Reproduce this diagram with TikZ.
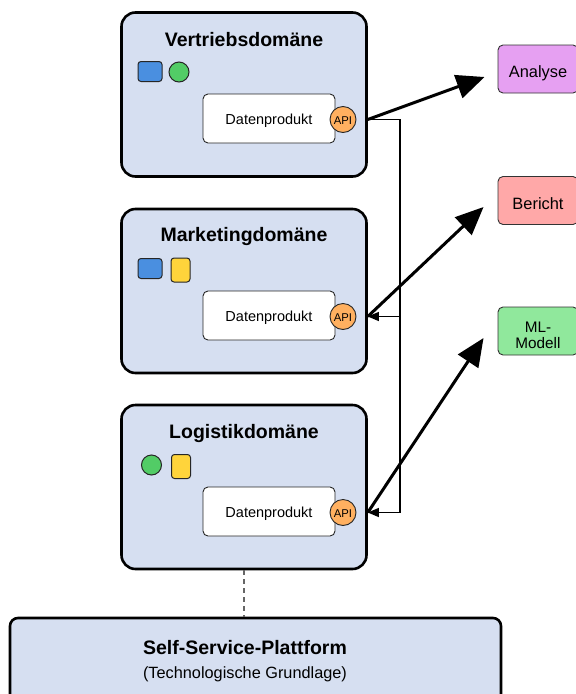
\documentclass[tikz,border=0pt]{standalone}
\usepackage{fontspec}
\setmainfont{Liberation Sans}
\usetikzlibrary{arrows.meta,calc}
\definecolor{domfill}{HTML}{D6DFF1}
\definecolor{sqblue}{HTML}{4A8FE0}
\definecolor{cgreen}{HTML}{52CC66}
\definecolor{ryellow}{HTML}{FFD43B}
\definecolor{apiorange}{HTML}{FFB060}
\definecolor{anfill}{HTML}{E6A0F2}
\definecolor{befill}{HTML}{FFA8A8}
\definecolor{mlfill}{HTML}{90E89C}
\tikzset{
  dombox/.style={draw=black, line width=2.6pt, fill=domfill, rounded corners=14pt,
    minimum width=245pt, minimum height=164pt, inner sep=0pt},
  domtitle/.style={font=\fontsize{19.5}{22}\selectfont\bfseries, inner sep=0pt},
  dprod/.style={draw=black!85, line width=0.9pt, fill=white, rounded corners=5pt,
    minimum width=132pt, minimum height=49pt, inner sep=0pt, font=\fontsize{14.5}{16}\selectfont,
    text height=11.6pt, text depth=0pt},
  apicirc/.style={circle, draw=black!85, line width=0.9pt, fill=apiorange, minimum size=26pt,
    inner sep=0pt, font=\fontsize{11.3}{12}\selectfont, text height=9pt, text depth=0pt},
  bluesq/.style={draw=black!85, line width=1pt, fill=sqblue, rounded corners=3pt,
    minimum width=24pt, minimum height=20pt, inner sep=0pt},
  yelrect/.style={draw=black!85, line width=1pt, fill=ryellow, rounded corners=3pt,
    minimum width=19pt, minimum height=24pt, inner sep=0pt},
  grcirc/.style={circle, draw=black!85, line width=1pt, fill=cgreen, minimum size=20pt, inner sep=0pt},
  consumer/.style={draw=black!80, line width=0.9pt, rounded corners=5pt,
    minimum width=80pt, minimum height=48pt, inner sep=0pt,
    font=\fontsize{16.4}{18}\selectfont, text height=17.5pt, text depth=0pt},
  thickarrow/.style={line width=3pt, -{Triangle[length=28pt,width=24pt]}},
  thinarrow/.style={line width=1.1pt, -{Triangle[length=11pt,width=9pt]}},
}
\begin{document}
\begin{tikzpicture}[x=1pt,y=-1pt]
\useasboundingbox (0,0) rectangle (576,694);

% domains
\node[dombox] (vd) at (244,94.5) {};
\node[dombox] (md) at (244,291) {};
\node[dombox] (ld) at (244,487) {};

\node[domtitle] (vt) at (244,40) {Vertriebsdomäne};
\node[domtitle] (mt) at (244,236) {Marketingdomäne};
\node[domtitle] (lt) at (244,433) {Logistikdomäne};

% icons
\node[bluesq] (vi1) at (150,71.5) {};
\node[grcirc] (vi2) at (179,72) {};
\node[bluesq] (mi1) at (150,268.5) {};
\node[yelrect] (mi2) at (180.5,270) {};
\node[grcirc] (li1) at (151.5,465) {};
\node[yelrect] (li2) at (181,466.5) {};

% data products
\node[dprod] (vp) at (269,118.5) {Datenprodukt};
\node[dprod] (mp) at (269,315.5) {Datenprodukt};
\node[dprod] (lp) at (269,511.5) {Datenprodukt};
\node[apicirc] (va) at (343,119.5) {API};
\node[apicirc] (ma) at (343,316.5) {API};
\node[apicirc] (la) at (343,512.5) {API};

% consumers
\node[consumer, fill=anfill] (an) at (538,69) {Analyse};
\node[consumer, fill=befill] (be) at (538,200.5) {Bericht};
\node[consumer, fill=mlfill] (ml) at (538,331) {};
\node[align=center, inner sep=0pt, font=\fontsize{15.3}{16}\selectfont] (mltxt) at ($(ml.center)+(0,4.5)$) {ML-\\Modell};

% platform
\node[draw=black, line width=2.6pt, fill=domfill, rounded corners=8pt,
  minimum width=491pt, minimum height=110pt, inner sep=0pt] (pf) at (255.5,673) {};
\node[font=\fontsize{19.5}{22}\selectfont\bfseries, inner sep=0pt] (pft) at (245,648) {Self-Service-Plattform};
\node[font=\fontsize{16.3}{18}\selectfont, inner sep=0pt] (pfs) at (245,674) {(Technologische Grundlage)};

% ports and helper coordinates
\coordinate (vport) at (vd.east |- va.center);
\coordinate (mport) at (md.east |- ma.center);
\coordinate (lport) at (ld.east |- la.center);
\coordinate (bus) at (400,0);
\coordinate (antip) at ($(an.west)+(-13,8)$);
\coordinate (betip) at ($(be.west)+(-14,6.5)$);
\coordinate (mltip) at ($(ml.west)+(-14,7)$);

% thin distribution lines
\draw[line width=1.1pt] (vport) -- (vport -| bus) -- (lport -| bus);
\draw[thinarrow] (lport -| bus) -- (lport);
\draw[thinarrow] (mport -| bus) -- (mport);

% thick arrows to consumers
\draw[thickarrow] (vport) -- (antip);
\draw[thickarrow] (mport) -- (betip);
\draw[thickarrow] (lport) -- (mltip);

% dashed link
\draw[gray!80!black, line width=1.2pt, dash pattern=on 5pt off 4pt] (ld.south) -- (ld.south |- pf.north);
\end{tikzpicture}
\end{document}
